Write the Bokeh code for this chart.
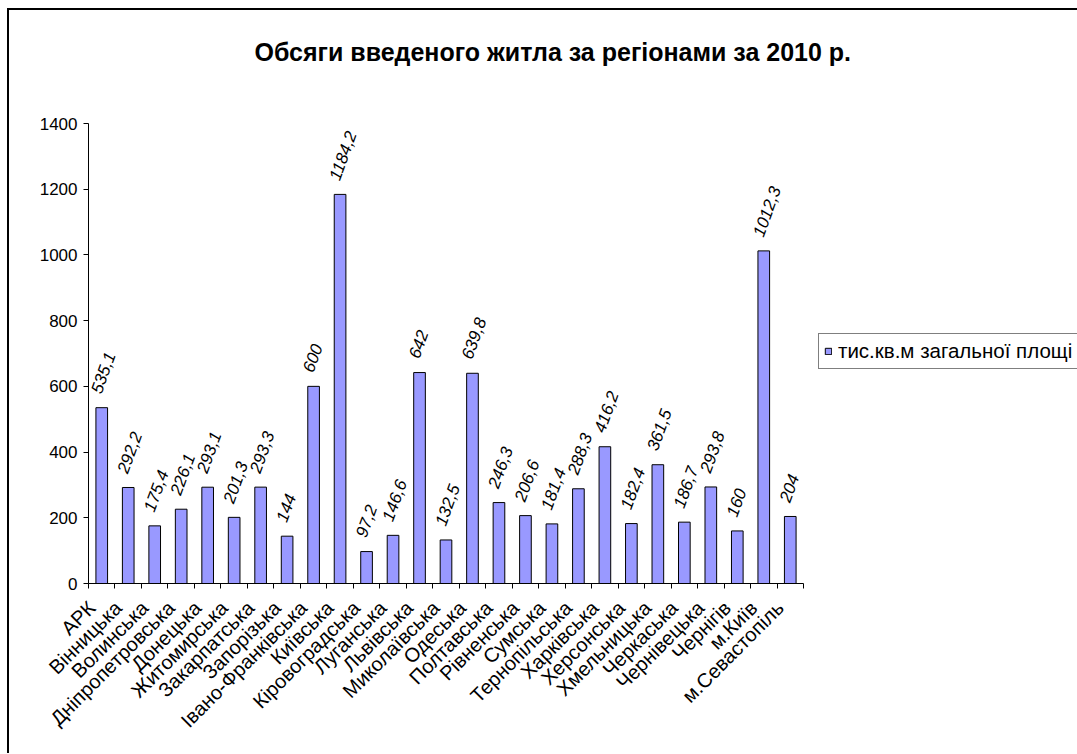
import numpy as np
from bokeh.plotting import figure
from bokeh.models import (Range1d, FixedTicker, CustomJSTickFormatter, Title,
                          Legend, LegendItem, ColumnDataSource)
from bokeh.core.properties import value
from bokeh.embed import file_html
from bokeh.resources import INLINE

# ---- data ----
regions = ["АРК", "Вінницька", "Волинська", "Дніпропетровська", "Донецька", "Житомирська",
           "Закарпатська", "Запорізька", "Івано-Франківська", "Київська", "Кіровоградська",
           "Луганська", "Львівська", "Миколаївська", "Одеська", "Полтавська", "Рівненська",
           "Сумська", "Тернопільська", "Харківська", "Херсонська", "Хмельницька", "Черкаська",
           "Чернівецька", "Чернігів", "м.Київ", "м.Севастопіль"]
values = [535.1, 292.2, 175.4, 226.1, 293.1, 201.3, 293.3, 144, 600, 1184.2, 97.2, 146.6,
          642, 132.5, 639.8, 246.3, 206.6, 181.4, 288.3, 416.2, 182.4, 361.5, 186.7, 293.8,
          160, 1012.3, 204]
series_name = "тис.кв.м загальної площі"
title_text = "Обсяги введеного житла за регіонами за 2010 р."
y_ticks = [0, 200, 400, 600, 800, 1000, 1200, 1400]

FONT = "Liberation Sans"
n = len(regions)
xs = np.arange(n) + 0.5
labels = [f"{v:g}".replace(".", ",") for v in values]
src = ColumnDataSource(dict(x=xs, top=values, lab=labels, name=regions))

p = figure(frame_width=715, frame_height=460, output_backend="svg", toolbar_location=None,
           x_range=Range1d(0, n), y_range=Range1d(0, y_ticks[-1]),
           min_border_left=79, min_border_right=274, min_border_top=0, min_border_bottom=170,
           background_fill_color="white", border_fill_color="white")
p.outline_line_color = None
p.grid.visible = False
p.styles = {"margin-left": "7px", "margin-top": "8px",
            "border-left": "2px solid black", "border-top": "2px solid black"}

bars = p.vbar(x="x", top="top", width=0.44, bottom=0, source=src,
              fill_color="#9999FF", line_color="black", line_width=1)

p.text(x="x", y="top", text="lab", source=src, angle=np.deg2rad(70),
       text_align="left", text_baseline="middle", x_offset=-6, y_offset=-15,
       text_font=value(FONT), text_font_size="17px", text_font_style="italic",
       text_color="black")

# x axis: labels slightly left of bar centres (rotated text anchor), ticks at category edges
xa = p.xaxis[0]
xa.ticker = FixedTicker(ticks=list(xs - 0.38), minor_ticks=list(range(n + 1)))
xa.formatter = CustomJSTickFormatter(args=dict(names=regions),
                                     code="const i = Math.floor(tick + 0.5); return (i >= 0 && i < names.length) ? names[i] : '';")
xa.major_tick_out = 0
xa.major_tick_in = 0
xa.minor_tick_out = 5
xa.minor_tick_in = 0
xa.minor_tick_line_color = "black"
xa.axis_line_color = "black"
xa.major_label_orientation = np.pi / 4
xa.major_label_text_font = FONT
xa.major_label_text_font_size = "20px"
xa.major_label_text_color = "black"
xa.major_label_standoff = 16

# y axis
ya = p.yaxis[0]
ya.ticker = FixedTicker(ticks=y_ticks)
ya.major_tick_out = 5
ya.major_tick_in = 0
ya.minor_tick_out = 0
ya.minor_tick_in = 0
ya.axis_line_color = "black"
ya.major_tick_line_color = "black"
ya.major_label_text_font = FONT
ya.major_label_text_font_size = "17px"
ya.major_label_text_color = "black"
ya.major_label_standoff = 6

# real title (outermost) and a blank spacer title between it and the frame
p.title.text = title_text
p.title.align = "left"
p.title.offset = 166
p.title.vertical_align = "middle"
p.title.standoff = 53
p.title.text_font = FONT
p.title.text_font_size = "25px"
p.title.text_font_style = "bold"
p.title.text_color = "black"
p.add_layout(Title(text=" ", text_font_size="10px", standoff=17), "above")

legend = Legend(items=[LegendItem(label=series_name, renderers=[bars])],
                location=(15, 214), orientation="vertical",
                border_line_color="black", border_line_width=1,
                background_fill_color="white", background_fill_alpha=1,
                label_text_font=FONT, label_text_font_size="20.5px", label_text_color="black",
                glyph_width=8, glyph_height=8, label_standoff=6, padding=5, margin=0,
                label_height=20)
p.add_layout(legend, "right")

open("out.html", "w").write(file_html(p, INLINE))
